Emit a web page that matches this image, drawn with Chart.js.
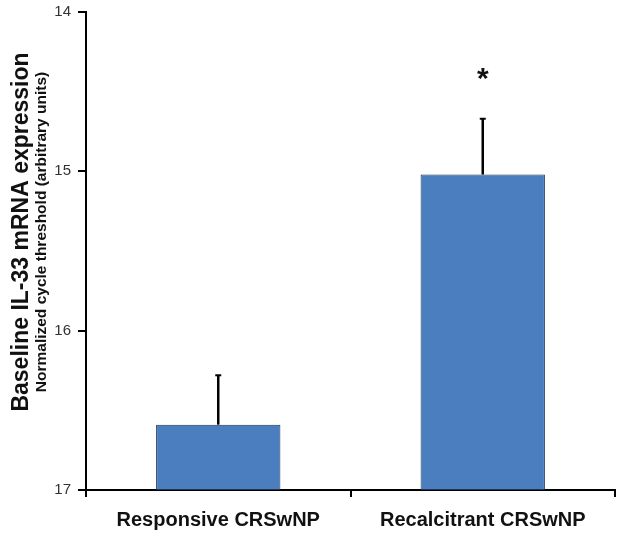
<!DOCTYPE html>
<html>
<head>
<meta charset="utf-8">
<script src="https://cdn.jsdelivr.net/npm/chart.js@4"></script>
<style>
  body { margin: 0; background: #fff; }
  #wrap { width: 624px; height: 540px; }
</style>
</head>
<body>
<div id="wrap"><canvas id="myChart" width="624" height="540"></canvas></div>
<script>
const groups = ["Responsive CRSwNP", "Recalcitrant CRSwNP"];
const baseline = 17;
const means = [16.59, 15.02];
const errTops = [16.28, 14.67];
const marks = ["", "*"];
const markValue = 14.39;
const yTicks = [14, 15, 16, 17];

const font = "'Liberation Sans', Arial, Helvetica, sans-serif";

// error bars, asterisk and the two-line y title
const extras = {
  id: "extras",
  afterDatasetsDraw(chart) {
    const ctx = chart.ctx;
    const y = chart.scales.y;
    const meta = chart.getDatasetMeta(0);
    ctx.save();
    ctx.strokeStyle = "#000";
    meta.data.forEach((bar, i) => {
      const x = bar.x;
      const top = y.getPixelForValue(errTops[i]);
      ctx.lineWidth = 2.5;
      ctx.beginPath();
      ctx.moveTo(x, y.getPixelForValue(means[i]));
      ctx.lineTo(x, top);
      ctx.stroke();
      ctx.lineWidth = 2;
      ctx.beginPath();
      ctx.moveTo(x - 3, top);
      ctx.lineTo(x + 3, top);
      ctx.stroke();
      if (marks[i]) {
        ctx.fillStyle = "#111";
        ctx.font = "bold 30px " + font;
        ctx.textAlign = "center";
        ctx.textBaseline = "middle";
        ctx.fillText(marks[i], x, y.getPixelForValue(markValue) + 6);
      }
    });
    ctx.restore();

    ctx.save();
    ctx.translate(22, 232);
    ctx.rotate(-Math.PI / 2);
    ctx.textAlign = "center";
    ctx.textBaseline = "middle";
    ctx.fillStyle = "#111";
    ctx.font = "bold 23px " + font;
    ctx.fillText("Baseline IL-33 mRNA expression", 0, 0);
    ctx.font = "bold 15.5px " + font;
    ctx.fillText("Normalized cycle threshold (arbitrary units)", 0, 20);
    ctx.restore();
  }
};

new Chart(document.getElementById("myChart"), {
  type: "bar",
  data: {
    labels: groups,
    datasets: [{
      data: means.map((m) => [baseline, m]),
      backgroundColor: "#4a7ebf",
      borderColor: "#1d3557",
      borderWidth: 1,
      borderSkipped: false,
      barPercentage: 0.47,
      categoryPercentage: 1
    }]
  },
  options: {
    responsive: false,
    animation: false,
    layout: { padding: { top: 12, right: 9, left: 0, bottom: 0 } },
    plugins: { legend: { display: false }, tooltip: { enabled: false } },
    scales: {
      x: {
        offset: true,
        afterFit: (s) => { s.height = 50; s.paddingLeft = 0; s.paddingRight = 0; },
        grid: { offset: true, drawOnChartArea: false, drawTicks: true, tickLength: 7, color: "#000", lineWidth: 2 },
        border: { color: "#000", width: 2 },
        ticks: { color: "#111", padding: 11, font: { family: font, size: 20, weight: "bold" } }
      },
      y: {
        reverse: true,
        min: 14,
        max: 17,
        afterFit: (s) => { s.width = 86; s.paddingTop = 0; s.paddingBottom = 0; },
        afterBuildTicks: (s) => { s.ticks = yTicks.map((v) => ({ value: v })); },
        grid: { drawOnChartArea: false, drawTicks: true, tickLength: 8, color: "#000", lineWidth: 2 },
        border: { color: "#000", width: 2 },
        ticks: { color: "#333", padding: 7, font: { family: font, size: 15 } }
      }
    }
  },
  plugins: [extras]
});
</script>
</body>
</html>
